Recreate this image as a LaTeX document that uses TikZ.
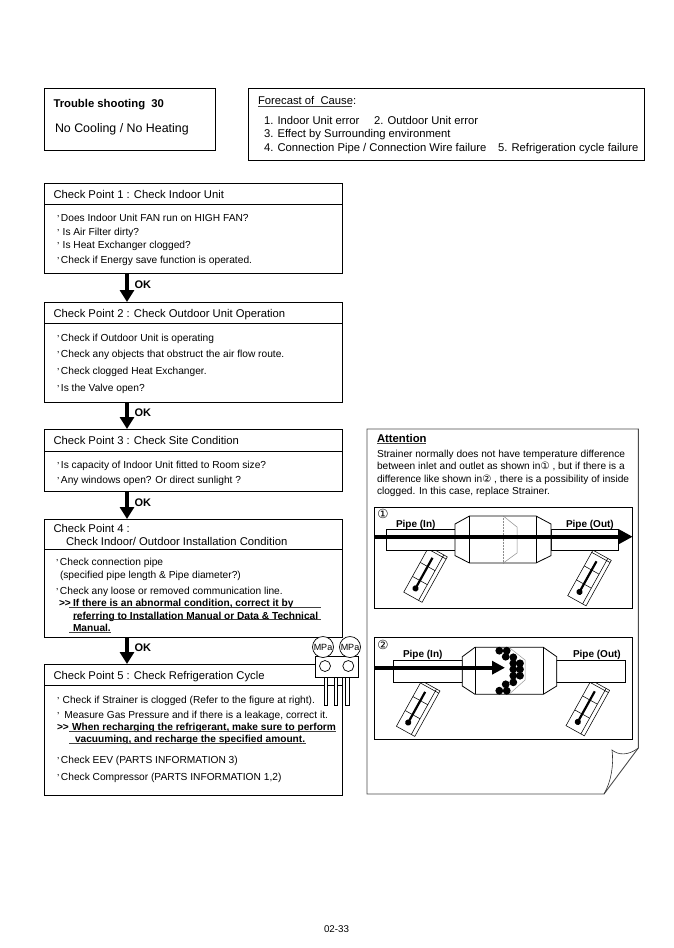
\documentclass[tikz,border=0pt]{standalone}
\usepackage{fontspec}
\setmainfont{Liberation Sans}
\newfontfamily\circfont{DejaVu Sans}
\usetikzlibrary{arrows.meta,calc}
\newcommand\pxbox[6][]{%
  \pgfmathsetmacro\pbw{#5-#3}\pgfmathsetmacro\pbh{#6-#4}%
  \pgfmathsetmacro\pbx{(#5+#3)/2}\pgfmathsetmacro\pby{(#6+#4)/2}%
  \node[boxnode,minimum width=\pbw pt,minimum height=\pbh pt,#1] (#2) at (\pbx,\pby) {};}
\newcommand\thermo[2]{%
  \begin{scope}[shift={(#1,#2)},rotate=-29]
    \draw[thermo line,fill=white] (-10.5,-26) rectangle (10.5,26);
    \draw[thermo line] (6.5,-26) -- (6.5,26) (-10.5,-23.5) -- (10.5,-23.5);
    \draw[thermo line] (-10.5,-8) -- (6.5,-8) (-10.5,8) -- (6.5,8);
    \draw[line width=2.2pt] (-2,-18) -- (-2,17);
    \fill (-2,17) circle (3.1);
  \end{scope}}
\newcommand\tick{\raisebox{-1.2pt}{'}}
\tikzset{
  x=1pt,y=-1pt,
  boxnode/.style={draw=black,line width=0.9pt,fill=white,inner sep=0pt,outer sep=0pt},
  txt/.style={anchor=base west,inner sep=0pt,outer sep=0pt,font=\fontsize{10.2}{12}\selectfont},
  head/.style={txt,font=\fontsize{11.25}{13}\selectfont},
  boldt/.style={txt,font=\fontsize{10.15}{12}\selectfont\bfseries},
  oklabel/.style={txt,font=\fontsize{11}{12}\selectfont\bfseries},
  okarrow/.style={line width=4.4pt,-{Triangle[width=14pt,length=12pt]},shorten <=0pt},
  rule/.style={line width=0.9pt,black!75},
  thermo line/.style={line width=0.55pt},
  strainer/.style={line width=0.8pt,fill=white},
  flow/.style={line width=4pt,-{Triangle[width=14pt,length=14pt]}},
  ball/.style={fill=black},
  pipelabel/.style={txt,font=\fontsize{10}{11}\selectfont\bfseries},
  circno/.style={inner sep=0pt,font=\circfont\fontsize{12.5}{13}\selectfont},
  para/.style={txt,font=\fontsize{10.15}{12}\selectfont},
  gauge/.style={draw=black,circle,line width=0.7pt,minimum size=21pt,inner sep=0pt,fill=white,font=\fontsize{9}{10}\selectfont},
  port/.style={draw=black,circle,line width=0.7pt,minimum size=11pt,inner sep=0pt},
  leg/.style={boxnode,line width=0.8pt,minimum width=3.6pt,minimum height=28pt},
}
\begin{document}
\begin{tikzpicture}
\useasboundingbox (0,0) rectangle (673,948);
\fill[white] (0,0) rectangle (673,948);

% top boxes
\pxbox{tsbox}{44}{88}{215}{150}
\node[txt,font=\fontsize{11.3}{13}\selectfont\bfseries] (ts1) at (53.5,107) {Trouble shooting\ \ 30};
\node[txt,font=\fontsize{12.4}{14}\selectfont] (ts2) at (55,132) {No Cooling / No Heating};
\pxbox{fcbox}{248}{88}{644}{160}
\node[head] (fc0) at (258,104) {Forecast of\ \ Cause:};
\draw[rule] (258,106.5) -- (352,106.5);
\node[head] (fc1) at (264,124) {1. Indoor Unit error};
\node[head] (fc2) at (374,124) {2. Outdoor Unit error};
\node[head] (fc3) at (264,137) {3. Effect by Surrounding environment};
\node[head] (fc4) at (264,151) {4. Connection Pipe / Connection Wire failure};
\node[head] (fc5) at (498,151) {5. Refrigeration cycle failure};

% check point 1
\pxbox{cp1h}{44}{183}{342.5}{204}
\pxbox{cp1b}{44}{204}{342.5}{273}
\node[head] (cp1t) at (53.5,198) {Check Point 1 : Check Indoor Unit};
\node[txt] (cp1a) at (57,221) {\tick\,Does Indoor Unit FAN run on HIGH FAN?};
\node[txt] (cp1c) at (57,235) {\tick\,\,Is Air Filter dirty?};
\node[txt] (cp1d) at (57,248) {\tick\,\,Is Heat Exchanger clogged?};
\node[txt] (cp1e) at (57,263) {\tick\,Check if Energy save function is operated.};

% check point 2
\pxbox{cp2h}{44}{302}{342.5}{323}
\pxbox{cp2b}{44}{323}{342.5}{402}
\node[head] (cp2t) at (53.5,317) {Check Point 2 : Check Outdoor Unit Operation};
\node[txt] (cp2a) at (57,341) {\tick\,Check if Outdoor Unit is operating};
\node[txt] (cp2c) at (57,357) {\tick\,Check any objects that obstruct the air flow route.};
\node[txt] (cp2d) at (57,374) {\tick\,Check clogged Heat Exchanger.};
\node[txt] (cp2e) at (57,391) {\tick\,Is the Valve open?};

% check point 3
\pxbox{cp3h}{44}{429}{342.5}{451}
\pxbox{cp3b}{44}{451}{342.5}{491}
\node[head] (cp3t) at (53.5,444) {Check Point 3 : Check Site Condition};
\node[txt] (cp3a) at (57,468) {\tick\,Is capacity of Indoor Unit fitted to Room size?};
\node[txt] (cp3c) at (57,483) {\tick\,Any windows open? Or direct sunlight ?};

% check point 4
\pxbox{cp4h}{44}{519}{342.5}{549}
\pxbox{cp4b}{44}{549}{342.5}{637}
\node[head] (cp4t) at (53.5,532) {Check Point 4 :};
\node[head] (cp4u) at (66,545) {Check Indoor/ Outdoor Installation Condition};
\node[txt] (cp4a) at (56,565) {\tick\,Check connection pipe};
\node[txt] (cp4c) at (60,578) {(specified pipe length \& Pipe diameter?)};
\node[txt] (cp4d) at (56,594) {\tick\,Check any loose or removed communication line.};
\node[boldt] (cp4e) at (59,606) {{>}{>}};
\node[boldt] (cp4f) at (73,606) {If there is an abnormal condition, correct it by};
\node[boldt] (cp4g) at (73,619) {referring to Installation Manual or Data \& Technical};
\node[boldt] (cp4i) at (73,631) {Manual.};
\draw[rule] (69,607) -- (321,607) (72.5,619.8) -- (321,619.8) (69,632) -- (111,632);

% check point 5
\pxbox{cp5h}{44}{664}{342.5}{685}
\pxbox{cp5b}{44}{685}{342.5}{795}
\node[head] (cp5t) at (53.5,679) {Check Point 5 : Check Refrigeration Cycle};
\node[txt] (cp5a) at (57,703) {\tick\,\,Check if Strainer is clogged (Refer to the figure at right).};
\node[txt] (cp5c) at (57,718) {\tick\,\,\,Measure Gas Pressure and if there is a leakage, correct it.};
\node[boldt] (cp5d) at (57,730) {{>}{>}};
\node[boldt] (cp5e) at (72,730) {When recharging the refrigerant, make sure to perform};
\node[boldt] (cp5f) at (75,742) {vacuuming, and recharge the specified amount.};
\draw[rule] (69,731) -- (336,731) (69,743) -- (305.5,743);
\node[txt] (cp5g) at (57,763) {\tick\,Check EEV (PARTS INFORMATION 3)};
\node[txt] (cp5i) at (57,780) {\tick\,Check Compressor (PARTS INFORMATION 1,2)};

% OK arrows
\draw[okarrow] ([xshift=83pt]cp1b.south west) -- ([xshift=83pt]cp2h.north west);
\draw[okarrow] ([xshift=83pt]cp2b.south west) -- ([xshift=83pt]cp3h.north west);
\draw[okarrow] ([xshift=83pt]cp3b.south west) -- ([xshift=83pt]cp4h.north west);
\draw[okarrow] ([xshift=83pt]cp4b.south west) -- ([xshift=83pt]cp5h.north west);
\node[oklabel] (ok1) at (134.5,288) {OK};
\node[oklabel] (ok2) at (134.5,416) {OK};
\node[oklabel] (ok3) at (134.5,506) {OK};
\node[oklabel] (ok4) at (134.5,651) {OK};

% gauges
\node[leg] (leg1) at (326,691) {};
\node[leg] (leg2) at (336,691) {};
\node[leg] (leg3) at (347.3,691) {};
\pxbox{manifold}{315.7}{656.7}{358.3}{677.3}
\node[port] (port1) at (325,666) {};
\node[port] (port2) at (348.3,666) {};
\node[gauge] (mpa1) at (323,647) {MPa};
\node[gauge] (mpa2) at (350,647) {MPa};

% attention page
\draw[line width=0.9pt,black!70,fill=white] (367,429) -- (638.3,429) -- (638.3,748) -- (604,794) -- (367,794) -- cycle;
\draw[line width=0.6pt,black!80] (638.3,748) .. controls (628,756) and (618,755) .. (612,750) .. controls (614,765) and (611,782) .. (604,794);
\node[txt,font=\fontsize{11.3}{13}\selectfont\bfseries] (att) at (377,442) {Attention};
\draw[rule] (377,443.5) -- (426,443.5);
\node[para] (at1) at (377,457) {Strainer normally does not have temperature difference};
\node[para] (at2) at (377,469.5) {between inlet and outlet as shown in{\circfont ①} , but if there is a};
\node[para] (at3) at (377,482) {difference like shown in{\circfont ②} , there is a possibility of inside};
\node[para] (at4) at (377,494) {clogged. In this case, replace Strainer.};

% figure 1
\pxbox{figa}{374}{507}{632.7}{608}
\node[circno] (numa) at (383,514) {①};
\node[pipelabel] (pin1) at (396,527) {Pipe (In)};
\node[pipelabel] (pout1) at (566,527) {Pipe (Out)};
\thermo{425.5}{574.5}
\thermo{589.5}{578}
\draw[strainer] (386,529) rectangle (455,550.6);
\draw[strainer] (551,529) rectangle (618.3,550.6);
\draw[strainer] (455,524) -- (469.5,516) -- (536,516) -- (551,524) -- (551,555.6) -- (536,563) -- (469.5,563) -- (455,555.6) -- cycle;
\draw[line width=0.8pt] (469.5,516) -- (469.5,563) (536,516) -- (536,563);
\draw[line width=0.5pt,black!45,densely dotted] (503.3,516) -- (503.3,563);
\draw[line width=0.5pt,black!45] (503.3,516) -- (517,527) -- (517,553) -- (503.3,563);
\coordinate (fla) at (374,536.7);
\coordinate (flb) at (632.7,536.7);
\draw[flow] (fla) -- (flb);

% figure 2
\pxbox{figb}{374}{637.3}{632.7}{739.3}
\node[circno] (numb) at (383,645) {②};
\node[pipelabel] (pin2) at (403,657) {Pipe (In)};
\node[pipelabel] (pout2) at (573,657) {Pipe (Out)};
\thermo{418.2}{708.6}
\thermo{587.8}{708}
\draw[strainer] (393,660) rectangle (462.3,682);
\draw[strainer] (556.7,660) rectangle (625.7,682);
\draw[strainer] (462.3,656.7) -- (475,647.3) -- (543.3,647.3) -- (556.7,656.7) -- (556.7,686) -- (543.3,694.3) -- (475,694.3) -- (462.3,686) -- cycle;
\draw[line width=0.8pt] (475,647.3) -- (475,694.3) (543.3,647.3) -- (543.3,694.3);
\draw[line width=0.5pt,black!40] (509,647.3) -- (525,660) -- (525,680) -- (509,694.3);
\foreach \bx/\by in {499.3/650.7,506.7/650.7,505.7/656.7,513.3/657.3,513.3/663.3,520/663.3,513.3/669.3,520/669.3,513.3/675.7,520/675.7,513.3/682.3,505.7/684.3,499.3/690.7,506.7/690.7}
  \fill[ball] (\bx,\by) circle (3.9);
\coordinate (flc) at (374,667.7);
\coordinate (fld) at (505,667.7);
\draw[flow,-{Triangle[width=13pt,length=13pt]}] (flc) -- (fld);

\node[txt,font=\fontsize{9.8}{11}\selectfont] (page) at (324,932) {02-33};
\end{tikzpicture}
\end{document}
